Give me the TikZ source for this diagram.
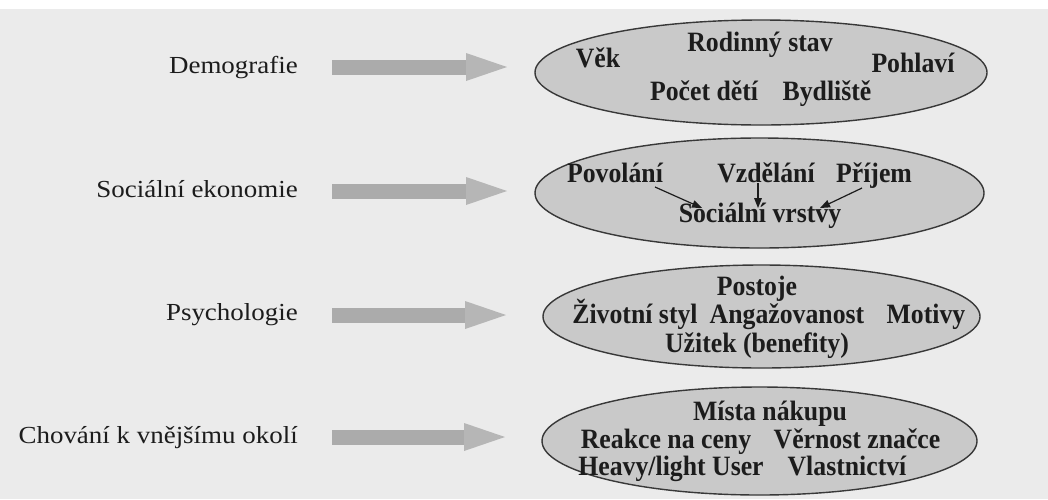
\documentclass[tikz,border=0pt]{standalone}
\usepackage{fontspec}
\setmainfont{Liberation Serif}
\newfontfamily\labelfont[FakeStretch=1.1]{Liberation Serif}
\newfontfamily\itemfont[FakeStretch=0.92]{Liberation Serif}
\usetikzlibrary{shapes.geometric,arrows.meta}

\definecolor{paper}{HTML}{EBEBEB}
\definecolor{shaftgray}{HTML}{ABABAB}
\definecolor{headgray}{HTML}{B6B6B6}
\definecolor{ovalgray}{HTML}{C9C9C9}
\definecolor{rim}{HTML}{383838}
\definecolor{ink}{HTML}{1C1C1C}

\begin{document}
\begin{tikzpicture}[x=1pt,y=-1pt,
  rowlabel/.style={anchor=base east, inner sep=0pt,
    font=\labelfont\fontsize{24.5}{28}\selectfont, text=ink},
  oval/.style={ellipse, draw=rim, line width=1.4pt, fill=ovalgray,
    inner sep=0pt, outer sep=0pt},
  item/.style={anchor=base, inner sep=0pt,
    font=\itemfont\fontsize{28}{32}\selectfont\bfseries, text=ink},
  bigarrow/.style={draw=shaftgray, line width=15pt,
    -{Triangle[length=41pt,width=28pt,line width=0pt,fill=headgray,color=headgray]}},
  link/.style={draw=ink, line width=1.2pt,
    -{Triangle[length=10pt,width=8pt,line width=0pt]}}
]
% page
\fill[paper] (0,0) rectangle (1048,499);
\fill[white] (0,0) rectangle (1048,9);
\useasboundingbox (0,0) rectangle (1048,499);

% ovals
\node[oval, minimum width=452pt, minimum height=105pt] (e1) at (761,72.5) {};
\node[oval, minimum width=449pt, minimum height=110pt] (e2) at (759.5,193) {};
\node[oval, minimum width=437pt, minimum height=103pt] (e3) at (761.5,316.5) {};
\node[oval, minimum width=435pt, minimum height=108pt] (e4) at (759.5,441) {};

% row labels
\node[rowlabel] (l1) at (298,73)  {Demografie};
\node[rowlabel] (l2) at (298,197) {Sociální ekonomie};
\node[rowlabel] (l3) at (298,320) {Psychologie};
\node[rowlabel] (l4) at (298,443) {Chování k vnějšímu okolí};

% arrow tails
\coordinate (a1) at (332,67);
\coordinate (a2) at (332,191);
\coordinate (a3) at (332,315);
\coordinate (a4) at (332,437);

\draw[bigarrow, shorten >=28pt] (a1) -- (a1 -| e1.west);
\draw[bigarrow, shorten >=28pt] (a2) -- (a2 -| e2.west);
\draw[bigarrow, shorten >=37pt] (a3) -- (a3 -| e3.west);
\draw[bigarrow, shorten >=37pt] (a4) -- (a4 -| e4.west);

% Demografie
\node[item] (vek) at (598,67)  {Věk};
\node[item] (rod) at (760,51)  {Rodinný stav};
\node[item] (poh) at (913,72)  {Pohlaví};
\node[item] (poc) at (704,100) {Počet dětí};
\node[item] (byd) at (827,100) {Bydliště};

% Sociální ekonomie
\node[item] (pov) at (615,182) {Povolání};
\node[item] (vzd) at (766,182) {Vzdělání};
\node[item] (pri) at (874,182) {Příjem};
\node[item] (soc) at (760,222) {Sociální vrstvy};

% shifts are in canvas points (upwards positive)
\coordinate (povs) at ([xshift=40pt,yshift=-5pt]pov.base);
\coordinate (vzds) at ([xshift=-8pt,yshift=-1pt]vzd.base);
\coordinate (pris) at ([xshift=-12pt,yshift=-6pt]pri.base);
\coordinate (soct1) at ([xshift=-58pt,yshift=14pt]soc.base);
\coordinate (soct2) at ([xshift=-2pt,yshift=14pt]soc.base);
\coordinate (soct3) at ([xshift=60pt,yshift=14pt]soc.base);
\draw[link] (povs) -- (soct1);
\draw[link] (vzds) -- (soct2);
\draw[link] (pris) -- (soct3);

% Psychologie
\node[item] (pos) at (757,295) {Postoje};
\node[item] (ziv) at (635,323) {Životní styl};
\node[item] (ang) at (787,323) {Angažovanost};
\node[item] (mot) at (926,323) {Motivy};
\node[item] (uzi) at (757,352) {Užitek (benefity)};

% Chování k vnějšímu okolí
\node[item] (mis) at (770,420) {Místa nákupu};
\node[item] (rea) at (666,448) {Reakce na ceny};
\node[item] (ver) at (857,448) {Věrnost značce};
\node[item] (hea) at (671,475) {Heavy/light User};
\node[item] (vla) at (847,475) {Vlastnictví};
\end{tikzpicture}
\end{document}
